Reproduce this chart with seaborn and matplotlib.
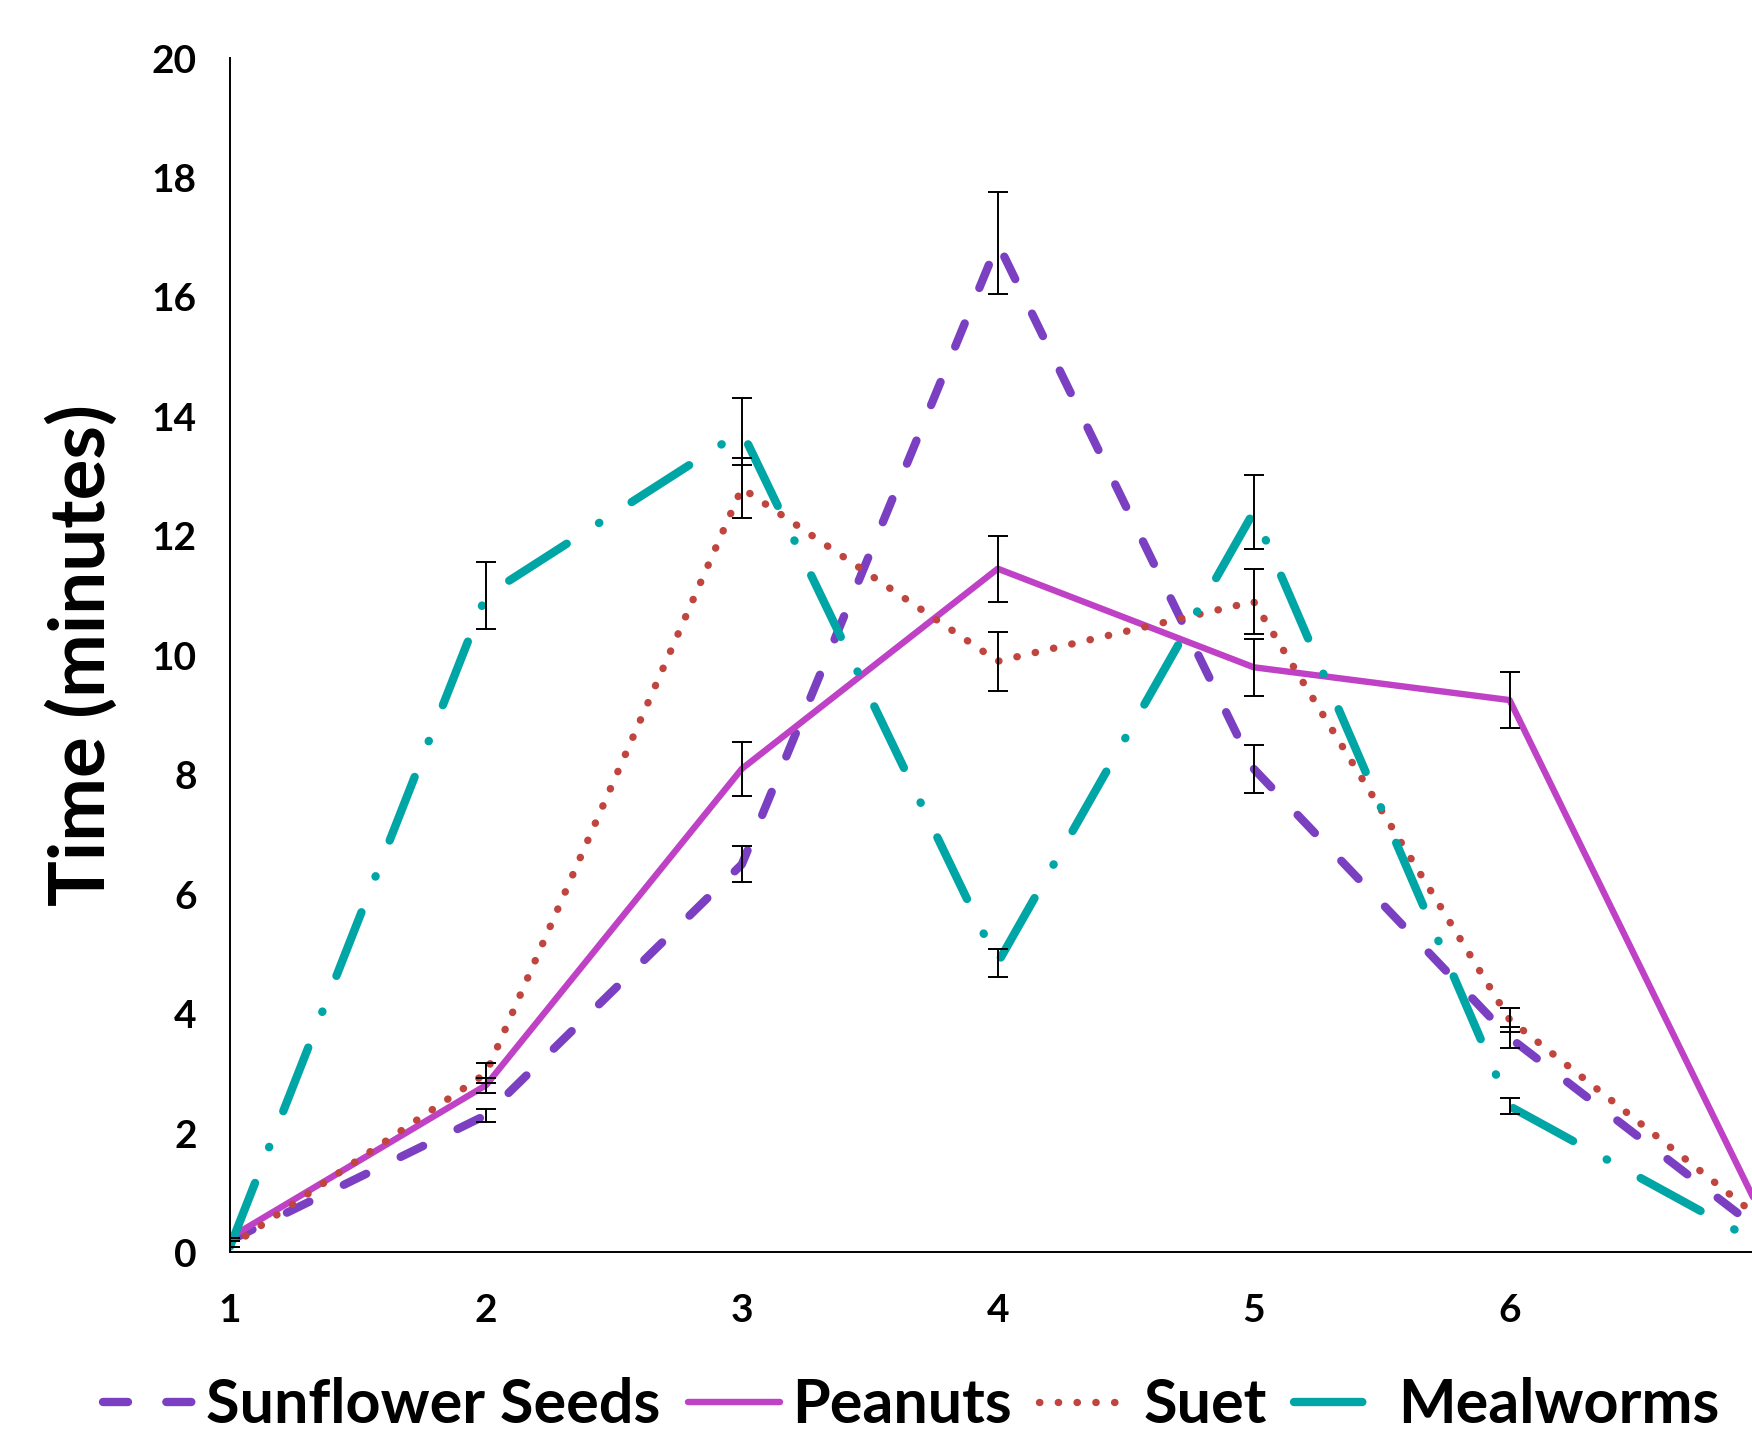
import matplotlib
matplotlib.use("Agg")
import matplotlib.pyplot as plt
import seaborn as sns
import pandas as pd

# ---- data ----
days = [1, 2, 3, 4, 5, 6, 7]
foods = ["Sunflower Seeds", "Peanuts", "Suet", "Mealworms"]
sunflower = [0.2, 2.3, 6.5, 16.9, 8.1, 3.6, 0.3]
sunflower_err = [0, 0.11, 0.3, 0.85, 0.4, 0.18, 0]
peanuts = [0.25, 2.8, 8.1, 11.45, 9.8, 9.25, 0.5]
peanuts_err = [0, 0.13, 0.45, 0.55, 0.48, 0.47, 0]
suet = [0.1, 3.0, 12.8, 9.9, 10.9, 3.9, 0.5]
suet_err = [0, 0.17, 0.5, 0.49, 0.55, 0.2, 0]
mealworms = [0.1, 11.0, 13.75, 4.85, 12.4, 2.45, 0.1]
mealworms_err = [0, 0.56, 0.56, 0.24, 0.62, 0.13, 0]
y_ticks = [0, 2, 4, 6, 8, 10, 12, 14, 16, 18, 20]
x_ticks = [1, 2, 3, 4, 5, 6]

values = {"Sunflower Seeds": sunflower, "Peanuts": peanuts, "Suet": suet, "Mealworms": mealworms}
errors = {"Sunflower Seeds": sunflower_err, "Peanuts": peanuts_err, "Suet": suet_err, "Mealworms": mealworms_err}

rows = []
for f in foods:
    for d, v in zip(days, values[f]):
        rows.append({"Day": d, "Time": v, "Food": f})
df = pd.DataFrame(rows)

colors = {"Sunflower Seeds": "#7B3FC2", "Peanuts": "#BF42C6", "Suet": "#C0453F", "Mealworms": "#00A6A6"}
dashes = {"Sunflower Seeds": (3.0, 4.6), "Peanuts": "", "Suet": (0.05, 2.5), "Mealworms": (8.2, 4.6, 0.05, 4.6)}
widths = {"Sunflower Seeds": 6.0, "Peanuts": 4.6, "Suet": 5.3, "Mealworms": 6.0}

sns.set_theme(style="white")
plt.rcParams["font.family"] = ["Lato", "DejaVu Sans"]
plt.rcParams["font.weight"] = "bold"
plt.rcParams["text.color"] = "black"
plt.rcParams["axes.labelcolor"] = "black"
plt.rcParams["xtick.color"] = "black"
plt.rcParams["ytick.color"] = "black"

fig = plt.figure(figsize=(17.52, 14.38), dpi=100)
ax = fig.add_axes([0.1313, 0.1290, 0.8764, 0.8306])

sns.lineplot(data=df, x="Day", y="Time", hue="Food", style="Food", hue_order=foods,
             style_order=foods, palette=colors, dashes=dashes, ax=ax, legend=False,
             estimator=None, sort=False)

lines = ax.get_lines()[:len(foods)]
for ln, f in zip(lines, foods):
    ln.set_linewidth(widths[f])
    ln.set_dash_capstyle("round")
    ln.set_solid_capstyle("round")
    ln.set_solid_joinstyle("round")
    ln.set_dash_joinstyle("round")

for f in foods:
    ax.errorbar(days, values[f], yerr=errors[f], fmt="none", ecolor="black",
                elinewidth=1.4, capsize=7, capthick=1.4, zorder=3)

ax.set_xlim(1, 7)
ax.set_ylim(0, 20)
ax.set_yticks(y_ticks)
ax.set_xticks(x_ticks)
ax.tick_params(axis="both", length=0, labelsize=28, colors="black")
ax.tick_params(axis="y", pad=24)
ax.tick_params(axis="x", pad=29)
for lab in ax.get_xticklabels() + ax.get_yticklabels():
    lab.set_fontweight("bold")
ax.set_xlabel("")
ax.set_ylabel("Time (minutes)", fontsize=55, fontweight="bold", labelpad=24, color="black")

for s in ["top", "right"]:
    ax.spines[s].set_visible(False)
for s in ["left", "bottom"]:
    ax.spines[s].set_color("black")
    ax.spines[s].set_linewidth(1.4)

leg = fig.legend(handles=lines, labels=foods, loc="center", bbox_to_anchor=(0.52, 0.023),
                 ncol=4, frameon=False, fontsize=44, handlelength=1.5,
                 handletextpad=0.2, columnspacing=0.45)
for t in leg.get_texts():
    t.set_fontweight("bold")
    t.set_color("black")

fig.savefig("out.png", dpi=100)
